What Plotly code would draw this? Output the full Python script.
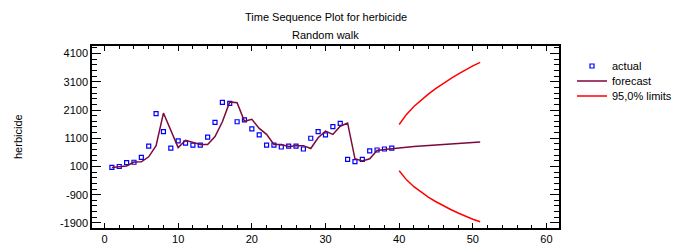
import plotly.graph_objects as go

# ---- data ----
t_actual = list(range(1, 40))
actual = [65, 100, 240, 250, 425, 820, 1975, 1335, 750, 1010,
          930, 860, 860, 1140, 1665, 2370, 2340, 1685, 1755, 1430,
          1220, 860, 860, 790, 820, 820, 720, 1100, 1335, 1220,
          1510, 1625, 355, 275, 355, 650, 685, 720, 750]

t_forecast = list(range(1, 52))
forecast = [65, 83, 118, 258, 268, 443, 838, 1993, 1353, 768,
            1028, 948, 878, 878, 1158, 1683, 2388, 2358, 1703, 1773,
            1448, 1238, 878, 878, 808, 838, 838, 738, 1118, 1353,
            1238, 1528, 1643, 373, 293, 373, 668, 703, 738, 768,
            786, 804, 822, 840, 858, 876, 894, 912, 930, 948, 966]

t_limits = list(range(40, 52))
upper = [1588, 1946, 2224, 2462, 2674, 2866, 3046, 3213, 3372, 3523, 3668, 3790]
lower = [-52, -374, -616, -818, -994, -1150, -1294, -1425, -1548, -1663, -1772, -1860]

x_ticks = [0, 10, 20, 30, 40, 50, 60]
y_ticks = [-1900, -900, 100, 1100, 2100, 3100, 4100]
y_tick_labels = ["-1900", "-900", "100", "1100", "2100", "3100", "4100"]

FONT = "Liberation Sans, Arial, sans-serif"
W, H = 679, 246
L, R, T, B = 92, 120, 46, 18
PW, PH = W - L - R, H - T - B


def px(xp):
    return (xp - L) / PW


def py(yp):
    return (H - B - yp) / PH


fig = go.Figure()
fig.add_trace(go.Scatter(
    x=t_actual, y=actual, mode="markers", name="actual", legend="legend",
    marker=dict(symbol="square-open", size=4, color="#0000FF",
                line=dict(width=1.2, color="#0000FF")),
))
fig.add_trace(go.Scatter(
    x=t_forecast, y=forecast, mode="lines", name="forecast", legend="legend2",
    line=dict(color="#7A0A3C", width=1.5),
))
fig.add_trace(go.Scatter(
    x=t_limits, y=upper, mode="lines", name="95,0% limits", legend="legend3",
    line=dict(color="#FF0000", width=1.5), legendgroup="lim",
))
fig.add_trace(go.Scatter(
    x=t_limits, y=lower, mode="lines", name="95,0% limits", legend="legend3",
    line=dict(color="#FF0000", width=1.5), legendgroup="lim", showlegend=False,
))

leg_common = dict(xanchor="left", yanchor="middle", font=dict(size=11),
                  bgcolor="rgba(0,0,0,0)", itemwidth=30, borderwidth=0)

fig.update_layout(
    width=W, height=H,
    margin=dict(l=L, r=R, t=T, b=B, autoexpand=False),
    paper_bgcolor="white", plot_bgcolor="white",
    font=dict(family=FONT, size=11, color="black"),
    showlegend=True,
    legend=dict(x=px(572), y=py(66), **leg_common),
    legend2=dict(x=px(572), y=py(81), **leg_common),
    legend3=dict(x=px(572), y=py(96), **leg_common),
    annotations=[
        dict(text="Time Sequence Plot for herbicide", x=0.5, y=py(17),
             xref="paper", yref="paper", xanchor="center", yanchor="middle",
             showarrow=False, font=dict(size=11)),
        dict(text="Random walk", x=0.5, y=py(35), xref="paper", yref="paper",
             xanchor="center", yanchor="middle", showarrow=False, font=dict(size=11)),
        dict(text="herbicide", x=px(18), y=py(137), xref="paper", yref="paper",
             xanchor="center", yanchor="middle", showarrow=False, textangle=-90,
             font=dict(size=11)),
    ],
)

fig.update_xaxes(
    range=[-1.7, 61.7], tickvals=x_ticks, automargin=False,
    showgrid=False, zeroline=False, showline=True, linecolor="black", linewidth=1.5,
    mirror="allticks", ticks="inside", ticklen=5, tickcolor="black", tickwidth=1,
    minor=dict(dtick=2, tick0=0, ticks="inside", ticklen=3, tickcolor="black", showgrid=False),
)
fig.update_yaxes(
    range=[-2080, 4370], tickvals=y_ticks, ticktext=y_tick_labels, automargin=False,
    showgrid=False, zeroline=False, showline=True, linecolor="black", linewidth=1.5,
    mirror="allticks", ticks="inside", ticklen=9, tickcolor="black", tickwidth=1,
    minor=dict(dtick=200, tick0=100, ticks="inside", ticklen=5, tickcolor="black", showgrid=False),
)

fig.write_html("out.html", config={"displayModeBar": False},
               post_script="document.body.style.margin='0';")
